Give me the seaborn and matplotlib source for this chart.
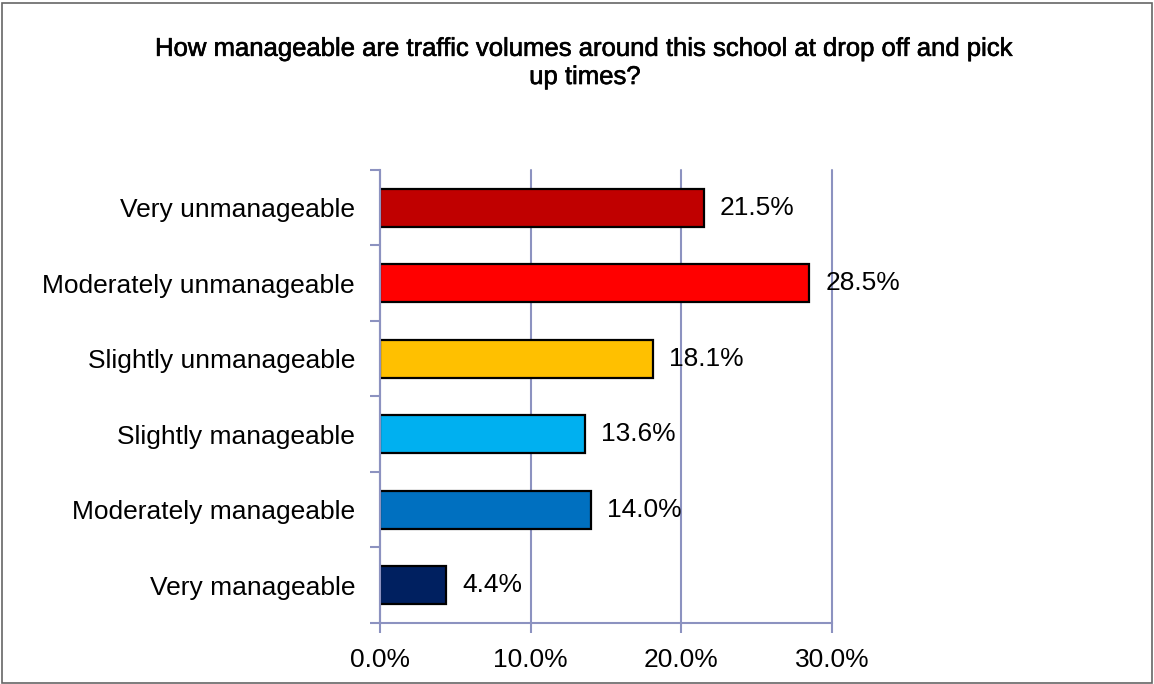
import matplotlib
matplotlib.use("Agg")
import matplotlib.pyplot as plt
import matplotlib.patheffects as pe
import seaborn as sns
import pandas as pd
from matplotlib.patches import Rectangle
from matplotlib.ticker import FuncFormatter

categorias = ["Very unmanageable", "Moderately unmanageable", "Slightly unmanageable",
              "Slightly manageable", "Moderately manageable", "Very manageable"]
porcentajes = [21.5, 28.5, 18.1, 13.6, 14.0, 4.4]
colores = ["#C00000", "#FF0000", "#FFC000", "#00B0F0", "#0070C0", "#002060"]
titulo = "How manageable are traffic volumes around this school at drop off and pick\nup times?"

df = pd.DataFrame({"Categoria": categorias, "Porcentaje": porcentajes})

sns.set_style("white")
plt.rcParams["font.family"] = ["Liberation Sans", "DejaVu Sans"]
plt.rcParams["text.color"] = "black"
plt.rcParams["xtick.labelcolor"] = "black"
plt.rcParams["ytick.labelcolor"] = "black"

eje_color = "#8C92C0"
tam = 19

fig = plt.figure(figsize=(11.54, 6.84), dpi=100)
ax = fig.add_axes([0.3293, 0.0892, 0.3917, 0.6623])

sns.barplot(data=df, x="Porcentaje", y="Categoria", hue="Categoria", palette=colores,
            order=categorias, hue_order=categorias, legend=False, width=0.5,
            edgecolor="black", linewidth=1.6, saturation=1, ax=ax)

# etiquetas de valor a la derecha de cada barra
for p, v in zip(ax.patches, porcentajes):
    y = p.get_y() + p.get_height() / 2
    ax.text(v + 1.05, y, f"{v:.1f}%", va="center", ha="left", fontsize=tam, color="black")

ax.set_xlim(0, 30)
ax.set_ylim(5.5, -0.5)
ax.set_xticks([0, 10, 20, 30])
ax.xaxis.set_major_formatter(FuncFormatter(lambda x, _: f"{x:.1f}%"))
ax.set_yticks([i - 0.5 for i in range(7)], minor=True)
ax.set_yticks(range(6))
ax.tick_params(axis="y", which="major", length=0, pad=18, labelsize=tam)
ax.tick_params(axis="y", which="minor", length=7, width=1.5, color=eje_color, direction="out", left=True)
ax.tick_params(axis="x", length=7, width=1.5, color=eje_color, direction="out", pad=11, labelsize=tam, bottom=True)
ax.set_xlabel("")
ax.set_ylabel("")

ax.grid(axis="x", color=eje_color, linewidth=1.5)
ax.set_axisbelow(True)
for linea in ax.get_xgridlines():
    linea.set_clip_on(False)
for lado in ["top", "right"]:
    ax.spines[lado].set_visible(False)
for lado in ["left", "bottom"]:
    ax.spines[lado].set_color(eje_color)
    ax.spines[lado].set_linewidth(1.5)

fig.text(0.507, 0.908, titulo, ha="center", va="center", fontsize=18.5, linespacing=1.22,
         path_effects=[pe.withStroke(linewidth=0.45, foreground="black")])

fig.patches.append(Rectangle((0.002, 0.002), 0.996, 0.993, transform=fig.transFigure,
                             fill=False, edgecolor="#666666", linewidth=1.2))

fig.savefig("out.png", dpi=100)
